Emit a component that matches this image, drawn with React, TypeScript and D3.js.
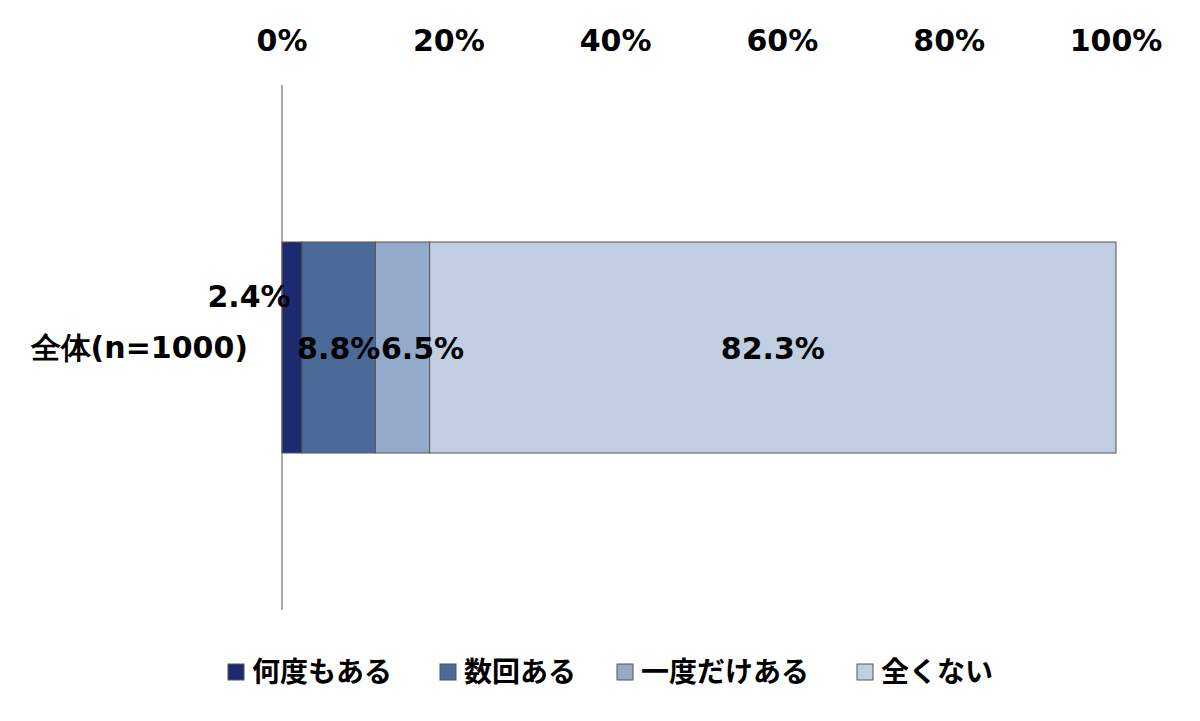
import { useEffect, useRef } from 'react';
import * as d3 from 'd3';

// Chart data
const categories = ['全体(n=1000)'];
const seriesNames = ['何度もある', '数回ある', '一度だけある', '全くない'];
const seriesValues = [2.4, 8.8, 6.5, 82.3];
const tickValues = [0, 20, 40, 60, 80, 100];

// Styles
const colors = ['#1E2A6F', '#4A6A97', '#94AACA', '#C1CDE0'];
// Excel moved a couple of labels by hand; keep those nudges apart from the data
const labelNudge = [
  { dx: -43, dy: -52 },
  { dx: 0, dy: 0 },
  { dx: 20, dy: 0 },
  { dx: 0, dy: 0 },
];
const latinFont = '"DejaVu Sans", Verdana, sans-serif';
const cjkFont = '"Noto Sans CJK JP", "Noto Sans", sans-serif';

const App: React.FC = () => {
  const chartRef = useRef<SVGSVGElement | null>(null);

  useEffect(() => {
    if (!chartRef.current) return;
    const svg = d3.select(chartRef.current);
    svg.selectAll('*').remove();

    const width = 1200;
    const height = 721;
    const margin = { top: 85, right: 84, bottom: 111, left: 282 };

    const x = d3.scaleLinear()
      .domain([0, 100])
      .range([margin.left, width - margin.right]);

    const y = d3.scaleBand<string>()
      .domain(categories)
      .range([margin.top, height - margin.bottom])
      .paddingInner(0)
      .paddingOuter(0.744);

    svg.append('rect')
      .attr('width', width)
      .attr('height', height)
      .attr('fill', '#ffffff');

    // Top axis labels (no tick marks, no domain line)
    svg.append('g')
      .selectAll('text')
      .data(tickValues)
      .enter()
      .append('text')
      .attr('x', d => x(d))
      .attr('y', 51)
      .attr('text-anchor', 'middle')
      .style('font-family', latinFont)
      .style('font-weight', 'bold')
      .style('font-size', '30px')
      .attr('fill', '#000')
      .text(d => `${d}%`);

    // Stacked segments
    const starts = d3.cumsum([0, ...seriesValues]);
    const bandY = y(categories[0]) || 0;
    const bandH = y.bandwidth();

    svg.append('g')
      .selectAll('rect')
      .data(seriesValues)
      .enter()
      .append('rect')
      .attr('x', (_, i) => x(starts[i]))
      .attr('y', bandY)
      .attr('width', (d, i) => x(starts[i] + d) - x(starts[i]))
      .attr('height', bandH)
      .attr('fill', (_, i) => colors[i])
      .attr('stroke', '#555555')
      .attr('stroke-width', 1);

    // Vertical category axis
    svg.append('line')
      .attr('x1', x(0))
      .attr('x2', x(0))
      .attr('y1', margin.top)
      .attr('y2', height - margin.bottom)
      .attr('stroke', '#555555')
      .attr('stroke-width', 1);

    // Category label
    svg.append('text')
      .attr('x', x(0) - 34)
      .attr('y', bandY + bandH / 2)
      .attr('dy', '0.36em')
      .attr('text-anchor', 'end')
      .style('font-family', latinFont)
      .style('font-weight', 'bold')
      .style('font-size', '30px')
      .text(categories[0]);

    // Data labels
    svg.append('g')
      .selectAll('text')
      .data(seriesValues)
      .enter()
      .append('text')
      .attr('x', (d, i) => (x(starts[i]) + x(starts[i] + d)) / 2 + labelNudge[i].dx)
      .attr('y', bandY + bandH / 2)
      .attr('dy', (_, i) => labelNudge[i].dy + 11)
      .attr('text-anchor', 'middle')
      .style('font-family', latinFont)
      .style('font-weight', 'bold')
      .style('font-size', '30px')
      .attr('fill', '#000')
      .text(d => `${d.toFixed(1)}%`);

    // Legend
    const legendX = [228, 440, 617, 857];
    const legend = svg.append('g');
    seriesNames.forEach((name, i) => {
      const item = legend.append('g')
        .attr('transform', `translate(${legendX[i]}, 672)`);
      item.append('rect')
        .attr('x', 0)
        .attr('y', -8)
        .attr('width', 16)
        .attr('height', 16)
        .attr('fill', colors[i])
        .attr('stroke', '#555555')
        .attr('stroke-width', 1);
      item.append('text')
        .attr('x', 24)
        .attr('y', 0)
        .attr('dy', '0.36em')
        .style('font-family', cjkFont)
        .style('font-weight', 'bold')
        .style('font-size', '28px')
        .text(name);
    });

    return () => {
      svg.selectAll('*').remove();
    };
  }, []);

  return (
    <svg
      ref={chartRef}
      width={1200}
      height={721}
      style={{ position: 'absolute', left: 0, top: 0, display: 'block' }}
    />
  );
};

export default App;
